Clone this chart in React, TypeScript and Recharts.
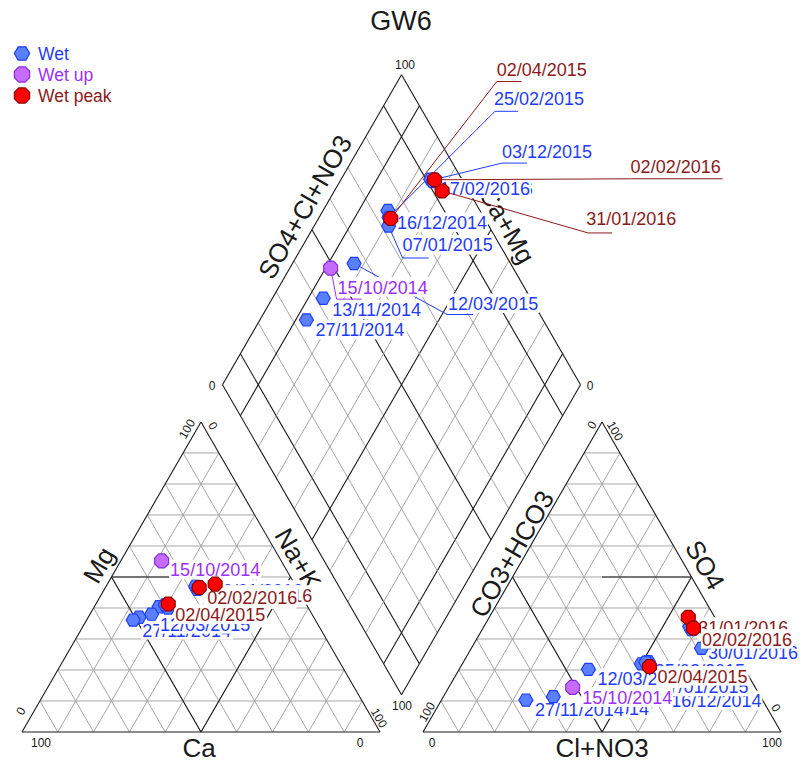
import React from 'react';
import { ScatterChart, Scatter, XAxis, YAxis, ReferenceLine, ReferenceDot } from 'recharts';

// ---------------- DATA ----------------
const seriesNames = ['Wet', 'Wet up', 'Wet peak'];

const wetDates = ['13/11/2014', '27/11/2014', '16/12/2014', '07/01/2015', '25/02/2015', '12/03/2015', '03/12/2015', '30/01/2016', '17/02/2016'];
const wetCa = [48.8, 50.9, 41.5, 39.2, 39.5, 44.8, 28.0, 28.0, 28.0];
const wetMg = [37.0, 36.1, 40.4, 40.0, 41.0, 38.0, 46.5, 47.0, 46.0];
const wetNaK = [14.2, 13.0, 18.1, 20.8, 19.5, 17.2, 25.5, 25.0, 26.0];
const wetHCO3 = [57.9, 66.1, 25.7, 28.0, 26.5, 43.7, 8.5, 8.7, 8.5];
const wetSO4 = [11.4, 10.3, 22.7, 22.0, 22.5, 20.2, 33.0, 27.0, 34.0];
const wetCl = [30.7, 23.6, 51.6, 50.0, 51.0, 36.1, 58.5, 64.3, 57.5];

const wetUpDates = ['15/10/2014'];
const wetUpCa = [33.4];
const wetUpMg = [55.2];
const wetUpNaK = [11.4];
const wetUpHCO3 = [51.0];
const wetUpSO4 = [14.4];
const wetUpCl = [34.6];

const wetPeakDates = ['02/04/2015', '31/01/2016', '02/02/2016'];
const wetPeakCa = [38.5, 22.2, 27.2];
const wetPeakMg = [41.3, 47.7, 46.6];
const wetPeakNaK = [20.2, 30.1, 26.2];
const wetPeakHCO3 = [26.2, 7.4, 7.7];
const wetPeakSO4 = [21.1, 37.0, 33.5];
const wetPeakCl = [52.7, 55.6, 58.8];

const cornerTicks = ['0', '100'];
const axisTitles = ['Ca', 'Mg', 'Na+K', 'Cl+NO3', 'SO4', 'CO3+HCO3', 'SO4+Cl+NO3', 'Ca+Mg'];
const chartTitle = 'GW6';

// ---------------- LAYOUT ----------------
const W = 809;
const H = 764;
const SIDE = 358;
const TH = SIDE * Math.sqrt(3) / 2;
const BASE_Y = 732;
const CAT_X0 = 22;
const AN_X0 = 423;
const GAP = AN_X0 - (CAT_X0 + SIDE);
const DB = { x: (CAT_X0 + SIDE + AN_X0) / 2, y: BASE_Y - GAP * Math.sqrt(3) / 2 };

type Pt = { x: number; y: number };
const catA: Pt = { x: CAT_X0, y: BASE_Y }; // Ca
const catB: Pt = { x: CAT_X0 + SIDE, y: BASE_Y }; // Na+K
const catC: Pt = { x: CAT_X0 + SIDE / 2, y: BASE_Y - TH }; // Mg
const anA: Pt = { x: AN_X0, y: BASE_Y }; // HCO3
const anB: Pt = { x: AN_X0 + SIDE, y: BASE_Y }; // Cl
const anC: Pt = { x: AN_X0 + SIDE / 2, y: BASE_Y - TH }; // SO4
const dU = { x: SIDE / 2, y: -TH };
const dV = { x: -SIDE / 2, y: -TH };
const dB: Pt = DB;
const dR: Pt = { x: DB.x + dU.x, y: DB.y + dU.y };
const dL: Pt = { x: DB.x + dV.x, y: DB.y + dV.y };
const dT: Pt = { x: DB.x + dU.x + dV.x, y: DB.y + dU.y + dV.y };

const lerp = (p: Pt, q: Pt, t: number): Pt => ({ x: p.x + (q.x - p.x) * t, y: p.y + (q.y - p.y) * t });

// label placement (offsets from the plotted point): [dx, dy, leader points]
type LO = [number, number, number[][]?];
const labelLayout: Record<string, { c: LO; a: LO; d: LO }> = {
  '13/11/2014': { c: [8, 10], a: [7, 12], d: [9, 11.5] },
  '27/11/2014': { c: [9, 10], a: [9, 9], d: [9, 10] },
  '16/12/2014': { c: [8, 10], a: [23, 39], d: [9, 12] },
  '07/01/2015': { c: [8, 10], a: [17, 23], d: [14, 19, [[14, 32], [40, 32]]] },
  '25/02/2015': { c: [8, 10], a: [9, 8.5], d: [105, -119, [[106, -106], [129, -106]]] },
  '12/03/2015': { c: [8.5, 10], a: [9, 9], d: [94, 40, [[93, 51], [119, 51]]] },
  '03/12/2015': { c: [8, 10], a: [9, 10], d: [70, -29, [[70, -17], [95, -17]]] },
  '30/01/2016': { c: [17, 4], a: [6.5, 4], d: [12, 9] },
  '17/02/2016': { c: [8, 10], a: [9, 10], d: [7, 7] },
  '15/10/2014': { c: [8.5, 9], a: [9.5, 10], d: [7, 19, [[6, 31], [31, 31]]] },
  '02/04/2015': { c: [7, 10.5], a: [8, 9.5], d: [106, -149, [[106, -137], [131, -137]]] },
  '31/01/2016': { c: [7, 11], a: [10, 10], d: [144, 28, [[146, 42], [170, 42]]] },
  '02/02/2016': { c: [8, 10], a: [8.5, 11], d: [196, -13, [[196, -1], [288, -1]]] },
};

const styles = [
  { fill: '#5a80ff', stroke: '#1e3fff', text: '#1f3cff', sides: 6, r: 7 },
  { fill: '#c56cff', stroke: '#8a2be2', text: '#9b30ff', sides: 8, r: 7.5 },
  { fill: '#ff0000', stroke: '#8b0000', text: '#8b1a1a', sides: 8, r: 7.5 },
];

const FONT = "'Liberation Sans', Arial, sans-serif";

function project(ca: number, mg: number, nak: number, hco3: number, so4: number, cl: number) {
  const ct = ca + mg + nak;
  const at = hco3 + so4 + cl;
  const fMg = mg / ct, fNa = nak / ct, fCaMg = (ca + mg) / ct;
  const fSO4 = so4 / at, fCl = cl / at, fCS = (so4 + cl) / at;
  return {
    c: { x: CAT_X0 + SIDE * (fNa + fMg / 2), y: BASE_Y - TH * fMg },
    a: { x: AN_X0 + SIDE * (fCl + fSO4 / 2), y: BASE_Y - TH * fSO4 },
    d: { x: DB.x + (SIDE / 2) * (fCS - fCaMg), y: DB.y - TH * (fCS + fCaMg) },
  };
}

function buildSeries(dates: string[], ca: number[], mg: number[], nak: number[], hco3: number[], so4: number[], cl: number[], s: number) {
  const out: any[] = [];
  dates.forEach((date, i) => {
    const p = project(ca[i], mg[i], nak[i], hco3[i], so4[i], cl[i]);
    (['c', 'a', 'd'] as const).forEach((k) => {
      const lo = labelLayout[date][k];
      out.push({ x: p[k].x, y: p[k].y, date, series: s, dx: lo[0], dy: lo[1], leader: lo[2] });
    });
  });
  return out;
}

const seriesData = [
  buildSeries(wetDates, wetCa, wetMg, wetNaK, wetHCO3, wetSO4, wetCl, 0),
  buildSeries(wetUpDates, wetUpCa, wetUpMg, wetUpNaK, wetUpHCO3, wetUpSO4, wetUpCl, 1),
  buildSeries(wetPeakDates, wetPeakCa, wetPeakMg, wetPeakNaK, wetPeakHCO3, wetPeakSO4, wetPeakCl, 2),
];

// ---------------- SHAPES ----------------
function polyPoints(cx: number, cy: number, r: number, n: number) {
  const rot = n === 8 ? Math.PI / 8 : 0;
  const pts: string[] = [];
  for (let i = 0; i < n; i++) {
    const a = rot + (i * 2 * Math.PI) / n;
    pts.push(`${(cx + r * Math.cos(a)).toFixed(2)},${(cy + r * Math.sin(a)).toFixed(2)}`);
  }
  return pts.join(' ');
}

const Marker = ({ cx, cy, s, scale = 1 }: any) => {
  const st = styles[s];
  return <polygon points={polyPoints(cx, cy, st.r * scale, st.sides)} fill={st.fill} stroke={st.stroke} strokeWidth={1.2} />;
};

const charW = (ch: string) => (/[0-9]/.test(ch) ? 0.556 : ch === '/' ? 0.278 : 0.6);
const textWidth = (t: string, size: number) => t.split('').reduce((a, c) => a + charW(c), 0) * size;

const LABEL_SIZE = 18;

const LabelShape = (props: any) => {
  const { cx, cy, payload } = props;
  if (cx == null || cy == null || !payload) return <g />;
  const st = styles[payload.series];
  const tx = cx + payload.dx;
  const ty = cy + payload.dy;
  const w = textWidth(payload.date, LABEL_SIZE);
  const leader: number[][] | undefined = payload.leader;
  return (
    <g>
      {leader && (
        <polyline
          points={[[0, 0], ...leader].map(([lx, ly]) => `${cx + lx},${cy + ly}`).join(' ')}
          fill="none"
          stroke={st.text}
          strokeWidth={1}
        />
      )}
      <rect x={tx - 1} y={ty - 10} width={w + 2} height={19.5} fill="#ffffff" />
      <text x={tx} y={ty + 6.5} fontSize={LABEL_SIZE} fill={st.text} fontFamily={FONT}>
        {payload.date}
      </text>
    </g>
  );
};

const PointShape = (props: any) => {
  const { cx, cy, payload } = props;
  if (cx == null || cy == null || !payload) return <g />;
  return <Marker cx={cx} cy={cy} s={payload.series} />;
};

// ---------------- GRID ----------------
type Seg = { p: Pt; q: Pt; dark: boolean };
function triangleGrid(A: Pt, B: Pt, C: Pt): Seg[] {
  const segs: Seg[] = [];
  const corners = [A, B, C];
  for (let k = 1; k <= 9; k++) {
    const t = k / 10;
    for (let i = 0; i < 3; i++) {
      const Pi = corners[i], Pj = corners[(i + 1) % 3], Pk = corners[(i + 2) % 3];
      segs.push({ p: lerp(Pj, Pi, t), q: lerp(Pk, Pi, t), dark: false });
    }
  }
  segs.push({ p: A, q: B, dark: true }, { p: B, q: C, dark: true }, { p: C, q: A, dark: true });
  return segs;
}

const gridSegs: Seg[] = [];
gridSegs.push(...triangleGrid(catA, catB, catC));
gridSegs.push(...triangleGrid(anA, anB, anC));
// facies subdivisions
{
  const cl = lerp(catA, catC, 0.5), cb = lerp(catA, catB, 0.5), cr = lerp(catB, catC, 0.5);
  gridSegs.push({ p: cl, q: { x: cb.x, y: cl.y }, dark: true }, { p: cl, q: cb, dark: true }, { p: cb, q: cr, dark: true });
  const al = lerp(anA, anC, 0.5), ab = lerp(anA, anB, 0.5), ar = lerp(anB, anC, 0.5);
  gridSegs.push({ p: { x: ab.x, y: ar.y }, q: ar, dark: true }, { p: al, q: ab, dark: true }, { p: ab, q: ar, dark: true });
}
for (let k = 1; k <= 9; k++) {
  const t = k / 10;
  const dark = k === 1 || k === 5 || k === 9;
  const p1 = { x: dB.x + dV.x * t, y: dB.y + dV.y * t };
  gridSegs.push({ p: p1, q: { x: p1.x + dU.x, y: p1.y + dU.y }, dark });
  const p2 = { x: dB.x + dU.x * t, y: dB.y + dU.y * t };
  gridSegs.push({ p: p2, q: { x: p2.x + dV.x, y: p2.y + dV.y }, dark });
}
gridSegs.push({ p: dB, q: dR, dark: true }, { p: dR, q: dT, dark: true }, { p: dT, q: dL, dark: true }, { p: dL, q: dB, dark: true });

// static texts: [x, y, text, size, angle]
type TT = [number, number, string, number, number];
const staticTexts: TT[] = [
  [401, 21, chartTitle, 27, 0],
  [199, 747.5, axisTitles[0], 26, 0],
  [99, 565, axisTitles[1], 26, -60],
  [298, 559, axisTitles[2], 26, 60],
  [602, 748, axisTitles[3], 26, 0],
  [705, 565, axisTitles[4], 26, 60],
  [512, 554, axisTitles[5], 26, -60],
  [305, 207, axisTitles[6], 26, -60],
  [507, 225, axisTitles[7], 26, 60],
  // cation ticks
  [41, 743, cornerTicks[1], 12, 0],
  [360, 743, cornerTicks[0], 12, 0],
  [21, 711, cornerTicks[0], 12, -60],
  [187, 429, cornerTicks[1], 12, -60],
  [213, 426, cornerTicks[0], 12, 60],
  [379, 718, cornerTicks[1], 12, 60],
  // anion ticks
  [432, 743, cornerTicks[0], 12, 0],
  [772, 743, cornerTicks[1], 12, 0],
  [427, 712, cornerTicks[1], 12, -60],
  [592, 425, cornerTicks[0], 12, -60],
  [615, 431, cornerTicks[1], 12, 60],
  [776, 708, cornerTicks[0], 12, 60],
  // diamond ticks
  [405, 65, cornerTicks[1], 12, 0],
  [212, 386, cornerTicks[0], 12, 0],
  [590, 386, cornerTicks[0], 12, 0],
  [402, 706, cornerTicks[1], 12, 0],
];

const legendRows = [53.5, 74.5, 95.5];

export default function App() {
  return (
    <div style={{ position: 'absolute', left: 0, top: 0, width: W, height: H, background: '#fff' }}>
      <ScatterChart width={W} height={H} margin={{ top: 0, right: 0, bottom: 0, left: 0 }}>
        <XAxis type="number" dataKey="x" domain={[0, W]} hide allowDataOverflow />
        <YAxis type="number" dataKey="y" domain={[0, H]} reversed hide allowDataOverflow width={0} />
        {gridSegs.map((s, i) => (
          <ReferenceLine
            key={`g${i}`}
            segment={[{ x: s.p.x, y: s.p.y }, { x: s.q.x, y: s.q.y }]}
            stroke={s.dark ? '#1a1a1a' : '#9c9c9c'}
            strokeWidth={s.dark ? 1.1 : 0.9}
            ifOverflow="visible"
          />
        ))}
        {staticTexts.map(([x, y, t, size, angle], i) => (
          <ReferenceDot
            key={`t${i}`}
            x={x}
            y={y}
            r={0}
            ifOverflow="visible"
            shape={(p: any) => (
              <text
                x={p.cx}
                y={p.cy}
                fontSize={size}
                fontFamily={FONT}
                fill="#1a1a1a"
                textAnchor="middle"
                dominantBaseline="central"
                transform={angle ? `rotate(${angle} ${p.cx} ${p.cy})` : undefined}
              >
                {t}
              </text>
            )}
          />
        ))}
        {seriesNames.map((name, s) => (
          <ReferenceDot
            key={`l${s}`}
            x={22}
            y={legendRows[s]}
            r={0}
            ifOverflow="visible"
            shape={(p: any) => (
              <g>
                <Marker cx={p.cx} cy={p.cy} s={s} scale={1.1} />
                <text x={p.cx + 16} y={p.cy} fontSize={17.5} fontFamily={FONT} fill={styles[s].text} dominantBaseline="central">
                  {name}
                </text>
              </g>
            )}
          />
        ))}
        {seriesData.map((data, s) => [
          <Scatter key={`lab${s}`} name={`${seriesNames[s]} labels`} data={data} shape={LabelShape} isAnimationActive={false} />,
          <Scatter key={`pt${s}`} name={seriesNames[s]} data={data} shape={PointShape} isAnimationActive={false} />,
        ])}
      </ScatterChart>
    </div>
  );
}
